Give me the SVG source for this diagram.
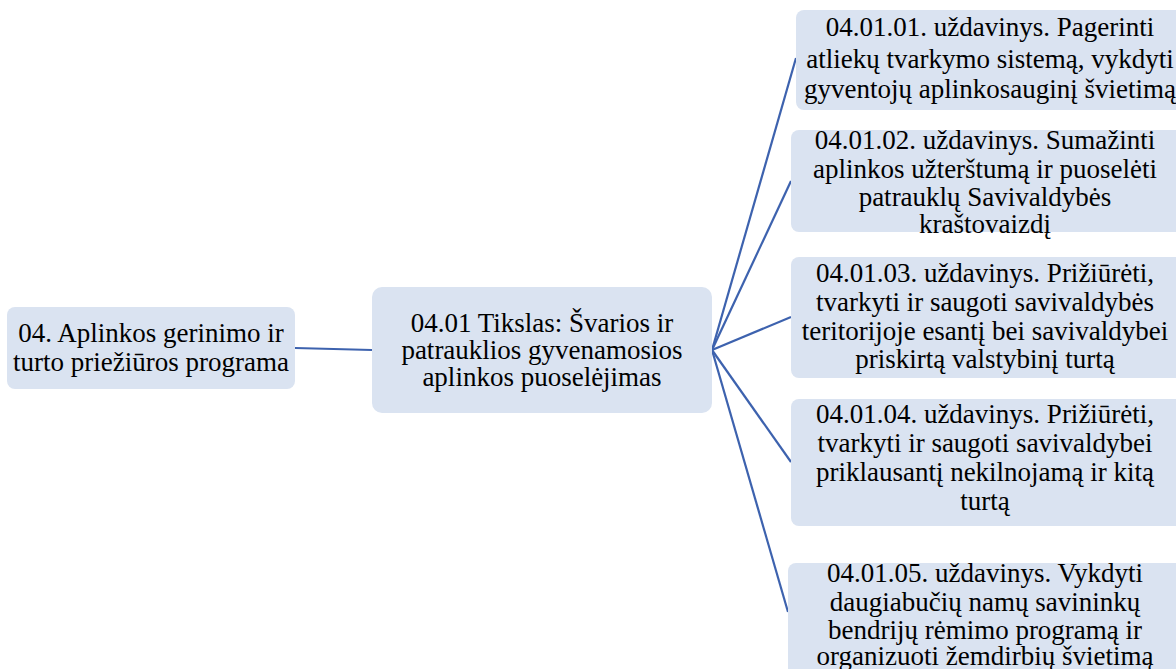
<svg xmlns="http://www.w3.org/2000/svg" width="1176" height="669" viewBox="0 0 1176 669">
<style>
.box{fill:#dae3f1;}
.c{stroke:#3d62ae;stroke-width:2.2;fill:none;}
</style>
<rect width="1176" height="669" fill="#ffffff"/>
<g id="connectors">
<line class="c" x1="295" y1="348" x2="372" y2="350"/>
<line class="c" x1="712" y1="350" x2="796" y2="58"/>
<line class="c" x1="712" y1="350" x2="791" y2="181"/>
<line class="c" x1="712" y1="350" x2="791" y2="317"/>
<line class="c" x1="712" y1="350" x2="791" y2="462"/>
<line class="c" x1="712" y1="350" x2="788" y2="612"/>
</g>
<g id="n1">
<rect class="box" x="7" y="307" width="288" height="82" rx="8"/>
<text x="151" y="342" font-family="Times New Roman" font-size="27" text-anchor="middle">04. Aplinkos gerinimo ir</text>
<text x="151" y="371" font-family="Times New Roman" font-size="27" text-anchor="middle">turto priežiūros programa</text>
</g>
<g id="n2">
<rect class="box" x="372" y="287" width="340" height="126" rx="10"/>
<text x="542" y="332" font-family="Times New Roman" font-size="27" text-anchor="middle">04.01 Tikslas: Švarios ir</text>
<text x="542" y="359" font-family="Times New Roman" font-size="27" text-anchor="middle">patrauklios gyvenamosios</text>
<text x="542" y="386" font-family="Times New Roman" font-size="27" text-anchor="middle">aplinkos puoselėjimas</text>
</g>
<g id="n3">
<rect class="box" x="796" y="10" width="400" height="100" rx="8"/>
<text x="990" y="36" font-family="Times New Roman" font-size="27" text-anchor="middle">04.01.01. uždavinys. Pagerinti</text>
<text x="990" y="68" font-family="Times New Roman" font-size="27" text-anchor="middle">atliekų tvarkymo sistemą, vykdyti</text>
<text x="990" y="98" font-family="Times New Roman" font-size="27" text-anchor="middle">gyventojų aplinkosauginį švietimą</text>
</g>
<g id="n4">
<rect class="box" x="791" y="130" width="400" height="102" rx="8"/>
<text x="985" y="149" font-family="Times New Roman" font-size="27" text-anchor="middle">04.01.02. uždavinys. Sumažinti</text>
<text x="985" y="178" font-family="Times New Roman" font-size="27" text-anchor="middle">aplinkos užterštumą ir puoselėti</text>
<text x="985" y="206" font-family="Times New Roman" font-size="27" text-anchor="middle">patrauklų Savivaldybės</text>
<text x="985" y="233" font-family="Times New Roman" font-size="27" text-anchor="middle">kraštovaizdį</text>
</g>
<g id="n5">
<rect class="box" x="791" y="257" width="400" height="121" rx="8"/>
<text x="985" y="282" font-family="Times New Roman" font-size="27" text-anchor="middle">04.01.03. uždavinys. Prižiūrėti,</text>
<text x="985" y="311" font-family="Times New Roman" font-size="27" text-anchor="middle">tvarkyti ir saugoti savivaldybės</text>
<text x="985" y="340" font-family="Times New Roman" font-size="27" text-anchor="middle">teritorijoje esantį bei savivaldybei</text>
<text x="985" y="368" font-family="Times New Roman" font-size="27" text-anchor="middle">priskirtą valstybinį turtą</text>
</g>
<g id="n6">
<rect class="box" x="791" y="399" width="400" height="127" rx="8"/>
<text x="985" y="423" font-family="Times New Roman" font-size="27" text-anchor="middle">04.01.04. uždavinys. Prižiūrėti,</text>
<text x="985" y="452" font-family="Times New Roman" font-size="27" text-anchor="middle">tvarkyti ir saugoti savivaldybei</text>
<text x="985" y="481" font-family="Times New Roman" font-size="27" text-anchor="middle">priklausantį nekilnojamą ir kitą</text>
<text x="985" y="510" font-family="Times New Roman" font-size="27" text-anchor="middle">turtą</text>
</g>
<g id="n7">
<rect class="box" x="788" y="563" width="400" height="130" rx="8"/>
<text x="985" y="582" font-family="Times New Roman" font-size="27" text-anchor="middle">04.01.05. uždavinys. Vykdyti</text>
<text x="985" y="611" font-family="Times New Roman" font-size="27" text-anchor="middle">daugiabučių namų savininkų</text>
<text x="985" y="639" font-family="Times New Roman" font-size="27" text-anchor="middle">bendrijų rėmimo programą ir</text>
<text x="985" y="665" font-family="Times New Roman" font-size="27" text-anchor="middle">organizuoti žemdirbių švietimą</text>
</g>
</svg>
